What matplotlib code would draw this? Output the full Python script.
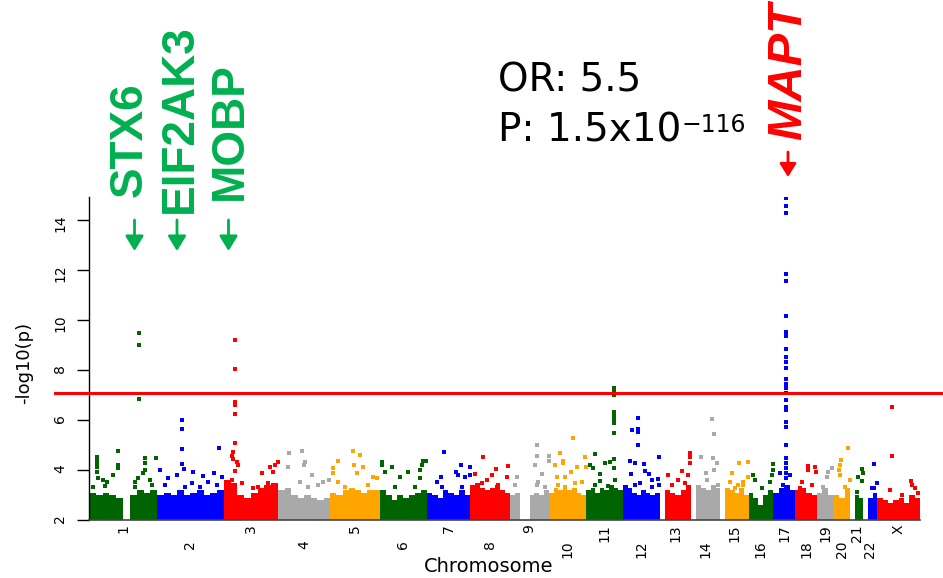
import numpy as np
import matplotlib as mpl
mpl.use('Agg')
import matplotlib.pyplot as plt
import matplotlib.transforms as mtransforms

# ---------------------------------------------------------------------
# Data
# ---------------------------------------------------------------------
chrom_names = [str(i) for i in range(1, 23)] + ['X']
chrom_len = [249.25, 243.2, 198.0, 191.2, 180.9, 171.1, 159.1, 146.4,
             141.2, 135.5, 135.0, 133.9, 115.2, 107.3, 102.5, 90.4,
             81.2, 78.1, 59.1, 63.0, 48.1, 51.3, 155.3]  # Mb

# top of the dense cloud of SNPs, equal-width bins along each chromosome
block_tops = [
    [3.1, 3.0, 3.1, 3.0, 2.9, 2.0, 3.0, 3.2, 3.1, 3.2],
    [3.0, 3.1, 3.0, 3.2, 3.0, 3.1, 3.2, 3.0, 3.1, 3.2],
    [3.6, 3.5, 3.0, 2.9, 3.1, 3.3, 3.4, 3.5],
    [3.2, 3.3, 3.0, 2.9, 3.0, 2.9, 2.8, 2.9],
    [3.1, 3.0, 3.2, 3.3, 3.2, 3.1, 3.2, 3.2],
    [3.2, 3.0, 2.8, 3.0, 2.9, 3.0, 3.1, 3.2],
    [3.1, 3.0, 2.9, 3.2, 3.1, 3.0, 3.2, 3.0],
    [3.4, 3.5, 3.3, 3.2, 3.3, 3.4, 3.2, 3.1],
    [3.0, 3.1, 2.0, 2.0, 3.0, 3.1, 3.0, 3.2],
    [3.1, 3.3, 3.2, 3.4, 3.2, 3.3, 3.1, 3.0],
    [3.2, 3.3, 3.1, 3.3, 3.2, 3.4, 3.3, 3.2],
    [3.4, 3.3, 3.1, 3.0, 3.2, 3.1, 3.0, 3.1],
    [2.0, 3.2, 3.1, 3.0, 3.2, 3.4],
    [2.0, 3.4, 3.3, 3.2, 3.4, 3.3],
    [2.0, 3.3, 3.2, 3.1, 3.3, 3.0],
    [3.1, 2.9, 2.6, 3.0, 3.2],
    [3.1, 3.3, 3.4, 3.2],
    [3.2, 3.3, 3.1, 3.0],
    [3.1, 3.3, 3.0],
    [3.0, 2.9, 3.3],
    [2.0, 3.0, 2.9],
    [2.0, 2.9, 3.1],
    [2.9, 2.8, 2.7, 2.8, 2.9, 2.7, 3.0, 2.9],
]

# individual SNPs above the cloud: position in chromosome (Mb), -log10(p)
hit_mb = [
    [28, 28, 28, 28, 28, 107, 107, 107, 89, 52, 65, 34, 205, 205, 205,
     245, 198, 180, 223, 168, 183, 183, 183, 58.5, 15.7, 168, 229],
    [89.4, 89.4, 89.4, 89.4, 227, 10, 99, 132, 168, 208, 238, 40, 71, 187,
     126, 28.4, 101.5, 156.3, 217.3],
    [41, 41, 41, 41, 41, 41, 35, 29, 35, 47, 53, 41, 29, 197, 187, 169, 181,
     138, 108, 16.5, 65.5, 126, 162.6],
    [89, 99, 95, 40, 38, 123, 186, 166, 80, 110.8, 147],
    [84, 108.5, 29, 121, 9, 9, 88, 96, 157, 29, 169, 53.7, 139],
    [7, 7, 43, 19, 159, 169, 153, 147, 104, 74, 147, 55.5, 128.6],
    [63, 124, 107, 51, 37, 116, 140, 157, 158, 55, 128],
    [48, 94, 139, 17.5, 79, 60, 133, 42, 102.7],
    [97, 97, 90, 117, 102, 140, 140, 23.5, 17, 96.5, 127],
    [89, 40, 53, 53, 22, 132, 101.5, 134, 80, 28.5, 120, 59, 34.3, 95.4],
    [103.4, 103.4, 103.4, 103.4, 103.4, 103.4, 103.4, 103.4, 103.4, 103.4,
     103.4, 33, 69, 88, 15, 27, 51, 106, 51, 32.9, 81.5],
    [54, 32, 54, 54, 54, 133, 26, 44, 78, 29, 81, 95, 62, 105, 129, 132,
     44, 105],
    [111, 111, 111, 81, 32, 103, 68, 44, 92.8],
    [75, 83.5, 35, 81, 93, 54, 83.5, 99, 57],
    [69, 101, 41, 83, 65, 100, 35, 53, 83],
    [88, 88, 15, 24, 78, 86, 48],
    [45.5, 45.5, 45.5, 45.5, 45.5, 45.5, 45.5, 45.5, 45.5, 45.5, 45.5, 45.5,
     45.5, 45.5, 45.5, 45.5, 45.5, 45.5, 45.5, 45.5, 45.5, 45.5, 45.5, 45.5,
     45.5, 45.5, 45.5, 24, 61, 36.5],
    [44.5, 44.5, 71, 75, 22.5, 16.4, 59],
    [54, 42, 36, 23.5, 29.6],
    [53.5, 29, 27, 23.5, 62, 27, 43.7],
    [42, 47, 29, 42, 23.3],
    [40, 50, 40, 30],
    [52, 52, 122, 137, 125, 46, 88.5, 149.6],
]
hit_logp = [
    [4.53, 4.40, 4.27, 4.13, 3.93, 4.77, 4.20, 4.07, 3.80, 3.60, 3.53, 3.67,
     4.47, 4.27, 4.00, 4.47, 3.87, 3.67, 3.60, 3.53, 9.49, 9.01, 6.84,
     3.36, 3.31, 3.31, 3.40],
    [6.00, 5.64, 4.83, 4.23, 4.89, 4.00, 4.03, 3.93, 3.77, 3.89, 3.71, 3.67,
     3.80, 3.53, 3.47, 3.40, 3.33, 3.31, 3.40],
    [9.21, 8.03, 6.71, 6.60, 6.23, 5.07, 4.73, 4.57, 4.44, 4.33, 4.20, 3.96,
     3.60, 4.33, 4.20, 4.13, 3.93, 3.87, 3.27, 3.40, 3.47, 3.33, 3.47],
    [4.77, 4.33, 4.20, 4.69, 4.11, 3.80, 3.60, 3.53, 3.53, 3.31, 3.40],
    [4.77, 4.60, 4.37, 4.13, 4.07, 3.89, 4.20, 3.87, 3.73, 3.53, 3.67,
     3.33, 3.40],
    [4.33, 4.20, 4.13, 3.93, 4.37, 4.37, 4.20, 4.00, 3.93, 3.73, 3.67,
     3.33, 3.31],
    [4.71, 4.20, 3.93, 3.71, 3.53, 3.80, 3.73, 4.11, 3.80, 3.31, 3.33],
    [4.53, 4.03, 4.16, 3.83, 3.80, 3.60, 3.73, 3.47, 3.40],
    [5.00, 4.56, 4.20, 3.84, 3.53, 4.56, 4.37, 3.73, 3.40, 3.40, 3.31],
    [5.27, 4.67, 4.37, 4.27, 4.20, 4.53, 4.11, 4.11, 3.93, 3.71, 3.53, 3.71,
     3.40, 3.47],
    [7.27, 7.20, 7.10, 7.00, 6.31, 6.17, 6.04, 5.89, 5.47, 4.43, 4.07,
     4.64, 4.27, 4.33, 4.20, 4.07, 3.84, 3.60, 3.57, 3.40, 3.36],
    [6.07, 5.60, 5.63, 5.51, 5.00, 4.53, 4.37, 4.27, 4.24, 3.84, 3.97, 3.84,
     3.49, 3.60, 3.63, 3.40, 3.40, 3.31],
    [4.69, 4.53, 4.27, 3.96, 3.80, 3.80, 3.60, 3.40, 3.47],
    [6.04, 5.44, 4.53, 4.47, 4.27, 3.87, 4.00, 3.40, 3.60],
    [4.27, 4.33, 3.89, 3.53, 3.40, 3.73, 3.53, 3.27, 3.40],
    [4.24, 4.00, 3.80, 3.60, 3.53, 3.80, 3.27],
    [14.88, 14.57, 14.30, 11.84, 11.57, 10.16, 9.53, 9.37, 8.84, 8.53, 8.33,
     8.08, 7.64, 7.44, 7.28, 7.08, 6.80, 6.53, 6.40, 5.93, 5.73, 5.00, 4.50,
     4.30, 4.10, 3.90, 3.70, 3.87, 3.80, 3.40],
    [4.16, 4.00, 4.13, 3.93, 3.53, 3.27, 3.40],
    [4.07, 3.93, 3.73, 3.33, 3.20],
    [4.89, 4.40, 4.20, 4.00, 3.60, 3.80, 3.33],
    [4.03, 3.89, 3.73, 3.57, 3.13],
    [4.24, 3.49, 3.29, 3.27],
    [6.51, 4.56, 3.57, 3.29, 3.40, 3.20, 3.00, 3.07],
]

threshold = 7.1
yticks = [2, 4, 6, 8, 10, 12, 14]
genes_left = ['STX6', 'EIF2AK3', 'MOBP']
palette = ['#006400', '#0000FF', '#FF0000', '#A9A9A9', '#FFA500']

# ---------------------------------------------------------------------
# Figure
# ---------------------------------------------------------------------
W, H = 943, 578
fig = plt.figure(figsize=(W / 100, H / 100), dpi=100)
ax = fig.add_axes([89 / W, 1 - 520 / H, (920 - 89) / W, (520 - 197) / H])


def fx(px):
    return px / W


def fy(py):
    return 1 - py / H


offsets = np.concatenate([[0.0], np.cumsum(chrom_len)[:-1]])

for k in range(len(chrom_len)):
    col = palette[k % 5]
    tops = np.array(block_tops[k])
    n = len(tops)
    w = chrom_len[k] / n
    left = offsets[k] + np.arange(n) * w
    ax.bar(left, tops - 2, bottom=2, width=w, align='edge', color=col,
           linewidth=0, zorder=2)
    ax.scatter(offsets[k] + np.array(hit_mb[k]), hit_logp[k], marker='s',
               s=7, color=col, linewidths=0, zorder=2)

ax.set_xlim(0, sum(chrom_len))
ax.set_ylim(2, 14.92)

ax.axhline(threshold, xmin=(55 - 89) / 831, xmax=(943 - 89) / 831,
           color='#FF0000', lw=2.2, clip_on=False, zorder=3)

for s in ['top', 'right']:
    ax.spines[s].set_visible(False)
ax.spines['left'].set_linewidth(1.0)
ax.spines['bottom'].set_linewidth(1.2)
ax.spines['bottom'].set_color('#444444')

ax.set_xticks([])
ax.set_yticks(yticks)
ax.tick_params(axis='y', length=8.5, width=1.0, pad=7, labelsize=10,
               labelrotation=90)

# chromosome labels, staggered in two rows
trans = mtransforms.blended_transform_factory(ax.transData, fig.transFigure)
for k, name in enumerate(chrom_names):
    mid = offsets[k] + chrom_len[k] / 2
    ytop = 524 if k % 2 == 0 else 540
    ax.text(mid, fy(ytop), name, transform=trans, rotation=90,
            ha='center', va='top', fontsize=10)

fig.text(fx(24), fy(363), '-log10(p)', rotation=90, ha='center',
         va='center', fontsize=13)
fig.text(fx(489), fy(566), 'Chromosome', ha='center', va='center',
         fontsize=14)

# gene annotations
green = '#00B050'
for name, px, py in zip(genes_left, [130, 179.5, 230], [197, 213, 200]):
    fig.text(fx(px), fy(py), name, rotation=90, rotation_mode='anchor',
             ha='left', va='center', color=green, fontsize=33,
             fontweight='bold', family='Liberation Sans')
for px in [134.5, 177, 228.5]:
    ax.annotate('', xy=(fx(px), fy(251)), xytext=(fx(px), fy(220)),
                xycoords='figure fraction', textcoords='figure fraction',
                arrowprops=dict(arrowstyle='-|>,head_length=0.9,head_width=0.55',
                                mutation_scale=10, color=green, lw=2,
                                shrinkA=0, shrinkB=0))

fig.text(fx(789), fy(140), 'MAPT', rotation=90, rotation_mode='anchor',
         ha='left', va='center', color='#FF0000', fontsize=35,
         fontweight='bold', fontstyle='italic', family='Liberation Sans')
ax.annotate('', xy=(fx(788), fy(177)), xytext=(fx(788), fy(152)),
            xycoords='figure fraction', textcoords='figure fraction',
            arrowprops=dict(arrowstyle='-|>,head_length=0.8,head_width=0.5',
                            mutation_scale=10, color='#FF0000', lw=2,
                            shrinkA=0, shrinkB=0))

fig.text(fx(498), fy(92), 'OR: 5.5', fontsize=28, va='baseline')
fig.text(fx(498), fy(142), 'P: 1.5x10', fontsize=28, va='baseline')
fig.text(fx(681), fy(132), '\u2212116', fontsize=17, va='baseline')

fig.savefig('out.png', dpi=100)
